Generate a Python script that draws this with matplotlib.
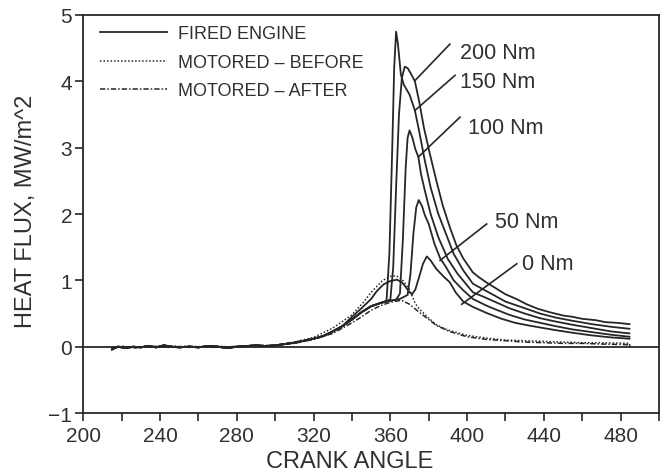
import numpy as np
import matplotlib.pyplot as plt
from matplotlib.ticker import MultipleLocator

plt.rcParams['font.family'] = ['Liberation Sans', 'DejaVu Sans']

INK = '#262626'
TXT = '#303030'

# baseline shared by the loaded fired-engine traces (before combustion)
fired_early_angle = [215, 218, 222, 226, 230, 234, 238, 242, 246, 250, 255, 260, 265, 270,
                     275, 280, 285, 290, 295, 300, 305, 310, 315, 320, 325, 330, 335, 340,
                     345, 350, 355]
fired_early_flux = [-0.04, 0.0, -0.02, 0.0, -0.01, 0.01, -0.01, 0.02, 0.0, -0.01, 0.0, -0.01,
                    0.01, 0.0, -0.02, 0.0, 0.01, 0.02, 0.01, 0.02, 0.04, 0.06, 0.09, 0.12,
                    0.16, 0.23, 0.31, 0.41, 0.52, 0.61, 0.66]

angle_200 = [358, 360, 361.5, 363, 364.5, 366, 367.5, 369, 371, 372.8, 375, 377.5, 380.4, 384,
             387.3, 391, 394.4, 398, 403, 406, 410, 415, 420, 425.6, 431, 437, 443, 450, 455,
             460, 467, 472, 478, 484.6]
flux_200 = [0.69, 0.71, 1.2, 2.4, 3.5, 4.05, 4.22, 4.2, 4.1, 4.0, 3.7, 3.3, 2.93, 2.5, 2.13,
            1.8, 1.53, 1.33, 1.12, 1.05, 0.97, 0.88, 0.79, 0.72, 0.64, 0.57, 0.52, 0.47, 0.45,
            0.42, 0.4, 0.37, 0.36, 0.34]

angle_150 = [358, 359.5, 361, 362, 363, 364, 365.5, 367, 370, 372.8, 375, 378, 381, 385, 389,
             393, 398, 403, 408, 415, 420, 428, 438, 446, 455, 465, 475, 484.6]
flux_150 = [0.69, 1.4, 3.0, 4.2, 4.75, 4.55, 4.1, 3.95, 3.8, 3.56, 3.25, 2.8, 2.4, 2.0, 1.7,
            1.4, 1.15, 0.95, 0.87, 0.76, 0.68, 0.6, 0.5, 0.44, 0.39, 0.34, 0.3, 0.27]

angle_100 = [358, 363, 365, 366.5, 368, 369, 370, 371.5, 373, 374.6, 376, 378, 381, 385, 390,
             395, 403, 408, 415, 422, 430, 438, 446, 455, 465, 475, 484.6]
flux_100 = [0.68, 0.71, 0.8, 1.6, 2.7, 3.15, 3.26, 3.15, 2.98, 2.86, 2.6, 2.35, 2.0, 1.65,
            1.32, 1.1, 0.82, 0.76, 0.67, 0.58, 0.5, 0.43, 0.38, 0.33, 0.28, 0.23, 0.2]

angle_50 = [358, 365, 369, 370.5, 372, 373.5, 374.8, 376.5, 378, 380, 383, 386, 389, 393, 398,
            403, 410, 415, 422, 430, 438, 446, 455, 465, 475, 484.6]
flux_50 = [0.68, 0.72, 0.78, 1.1, 1.7, 2.1, 2.21, 2.12, 1.98, 1.85, 1.55, 1.33, 1.2, 1.0,
           0.85, 0.72, 0.62, 0.56, 0.48, 0.41, 0.36, 0.31, 0.26, 0.22, 0.18, 0.15]

angle_0 = [340, 345, 350, 353, 356.5, 360, 363.5, 366, 368, 370, 371.3, 373, 375, 377, 379,
           381, 384, 388, 391, 394, 398, 403, 410, 418, 425, 432, 438, 446, 455, 465, 475,
           484.6]
flux_0 = [0.45, 0.58, 0.72, 0.84, 0.94, 0.99, 1.01, 0.97, 0.9, 0.82, 0.79, 0.86, 1.05, 1.25,
          1.36, 1.3, 1.17, 1.05, 0.97, 0.82, 0.68, 0.6, 0.51, 0.42, 0.36, 0.32, 0.29, 0.25,
          0.21, 0.17, 0.14, 0.12]

angle_before = [215, 220, 225, 230, 236, 242, 248, 255, 262, 270, 278, 285, 292, 300, 310, 320,
                330, 340, 346, 350, 356, 360, 363, 366, 370, 373, 375, 380, 384, 390, 394, 400,
                410, 420, 430, 440, 450, 460, 470, 484.6, 484.8]
flux_before = [-0.02, 0.01, -0.01, 0.0, 0.01, -0.01, 0.01, -0.01, 0.0, 0.01, -0.01, 0.0, 0.02,
               0.02, 0.07, 0.14, 0.28, 0.48, 0.67, 0.82, 1.0, 1.06, 1.07, 1.02, 0.86, 0.65,
               0.57, 0.43, 0.33, 0.25, 0.22, 0.17, 0.13, 0.1, 0.09, 0.08, 0.07, 0.06, 0.06,
               0.05, 0.0]

angle_after = [215, 221, 227, 233, 240, 247, 254, 261, 268, 276, 284, 292, 300, 310, 320, 330,
               340, 345, 350, 355, 360, 365.7, 370, 375, 380, 384, 390, 394, 400, 410, 420,
               430, 440, 450, 460, 470, 484.6, 484.8]
flux_after = [-0.01, 0.0, -0.02, 0.01, 0.0, -0.01, 0.01, 0.0, -0.01, 0.0, 0.01, 0.0, 0.02,
              0.05, 0.11, 0.2, 0.36, 0.45, 0.55, 0.62, 0.67, 0.7, 0.64, 0.52, 0.41, 0.32,
              0.24, 0.2, 0.15, 0.11, 0.09, 0.07, 0.06, 0.05, 0.05, 0.04, 0.03, 0.0]

load_labels = ['200 Nm', '150 Nm', '100 Nm', '50 Nm', '0 Nm']

fig = plt.figure(figsize=(6.62, 4.77), dpi=100)
ax = fig.add_axes([0.1258, 0.132, 0.8697, 0.8345])

ax.axhline(0, color=INK, lw=1.3, zorder=1)

# fired engine traces
fired = [(angle_200, flux_200), (angle_150, flux_150), (angle_100, flux_100), (angle_50, flux_50)]
for i, (a, f) in enumerate(fired):
    ax.plot(fired_early_angle + a, fired_early_flux + f, color=INK, lw=1.3,
            label='FIRED ENGINE' if i == 0 else None)
early_0 = [(a, f) for a, f in zip(fired_early_angle, fired_early_flux) if a < 340]
ax.plot([a for a, _ in early_0] + angle_0, [f for _, f in early_0] + flux_0, color=INK, lw=1.3)

ax.plot(angle_before, flux_before, color=INK, lw=1.1, ls=(0, (1, 1.3)),
        label='MOTORED \u2013 BEFORE')
ax.plot(angle_after, flux_after, color=INK, lw=1.1, ls=(0, (3.5, 1.3, 1, 1.3)),
        label='MOTORED \u2013 AFTER')

# load labels with leader lines
text_pos = [(396.2, 4.43), (396.2, 4.0), (400.4, 3.30), (414.5, 1.88), (428.5, 1.25)]
leaders = [((391.0, 372.8), (4.56, 4.01)), ((393.7, 372.8), (4.09, 3.56)),
           ((396.3, 374.6), (3.46, 2.86)), ((410.2, 385.9), (1.85, 1.30)),
           ((425.9, 397.2), (1.25, 0.64))]
for lab, (tx, ty), (lx, ly) in zip(load_labels, text_pos, leaders):
    ax.plot(lx, ly, color=INK, lw=1.2)
    ax.text(tx, ty, lab, fontsize=15.5, color=TXT, ha='left', va='center')

ax.set_xlim(200, 500)
ax.set_ylim(-1, 5)
ax.xaxis.set_major_locator(MultipleLocator(40))
ax.xaxis.set_minor_locator(MultipleLocator(20))
ax.yaxis.set_major_locator(MultipleLocator(1))
ax.tick_params(axis='x', which='both', direction='out', length=6, width=1.2, color=INK,
               labelsize=15, labelcolor=TXT, pad=3)
ax.tick_params(axis='y', direction='out', length=6, width=1.2, color=INK,
               labelsize=15, labelcolor=TXT, pad=2)
for s in ax.spines.values():
    s.set_color(INK)
    s.set_linewidth(1.3)

ax.set_xlabel('CRANK ANGLE', fontsize=17, color=TXT)
ax.xaxis.set_label_coords(0.463, -0.093)
ax.set_ylabel('HEAT FLUX, MW/m^2', fontsize=17, color=TXT)
ax.yaxis.set_label_coords(-0.08, 0.51)

leg = ax.legend(loc='upper left', bbox_to_anchor=(0.029, 0.974), frameon=False, fontsize=13,
                handlelength=3.7, handletextpad=0.6, labelspacing=0.64, borderaxespad=0,
                borderpad=0)
for t in leg.get_texts():
    t.set_color(TXT)

fig.savefig('out.png', dpi=100)
